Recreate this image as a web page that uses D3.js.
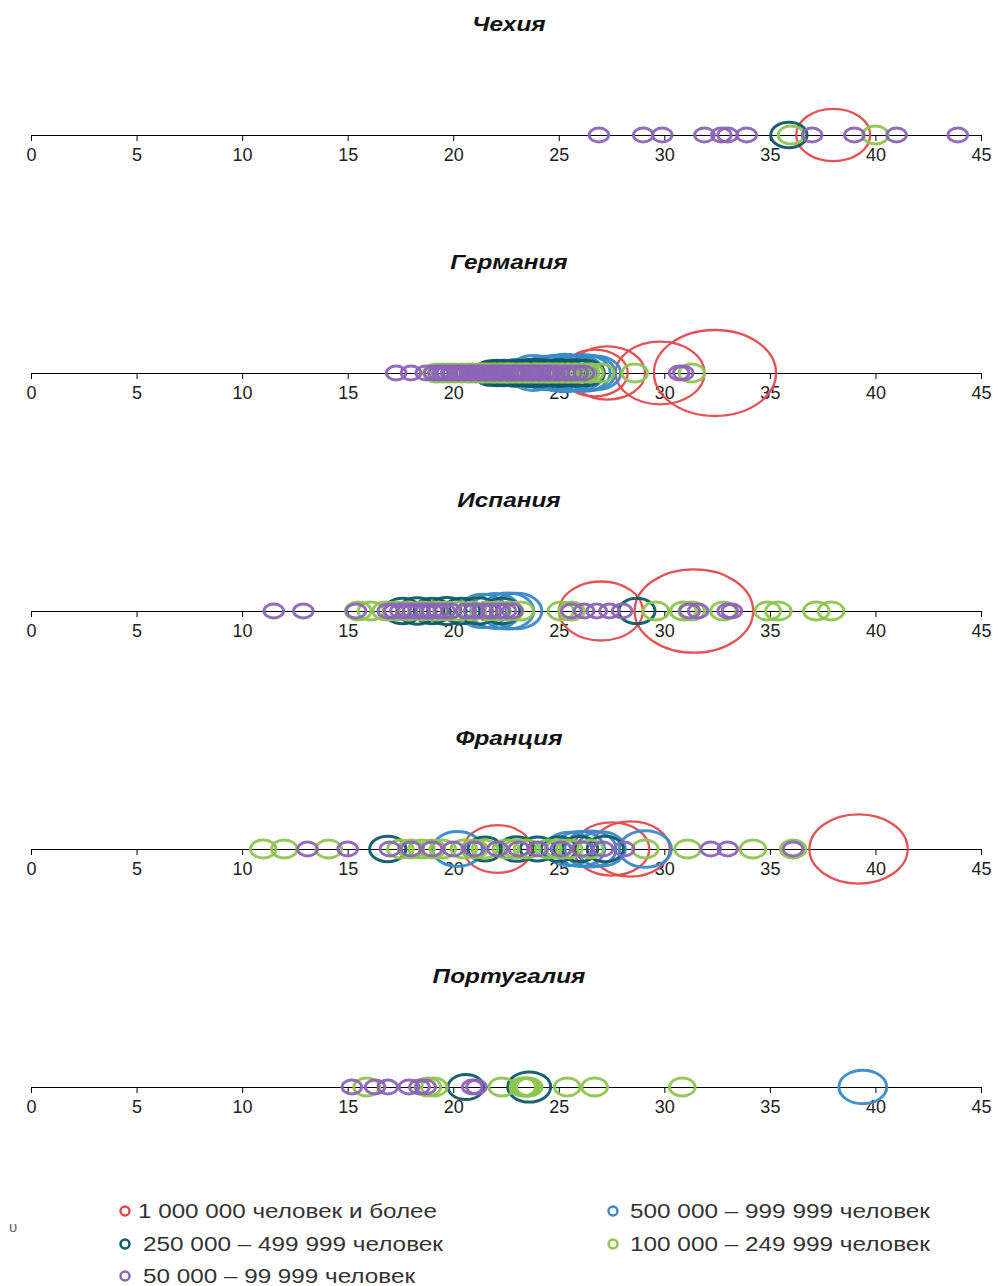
<!DOCTYPE html>
<html><head><meta charset="utf-8">
<script src="https://cdn.jsdelivr.net/npm/d3@7"></script>
<style>body{margin:0;background:#fff}</style>
</head><body>
<script>
// ---------- DATA ----------
const countries = ["Чехия", "Германия", "Испания", "Франция", "Португалия"];
const categories = ["1 000 000 человек и более", "500 000 – 999 999 человек", "250 000 – 499 999 человек", "100 000 – 249 999 человек", "50 000 – 99 999 человек"];
const tickValues = [0, 5, 10, 15, 20, 25, 30, 35, 40, 45];
// representative population (thousands) for classes given as plain values
const greenPop = 150, purplePop = 88;

// Чехия: [value, population (thous.)]
const czRed = [[38.0, 1250]];
const czBlue = [];
const czTeal = [[35.9, 300]];
const czGreen = [36.0, 40.0];
const czPurple = [26.9, 29.0, 29.9, 31.9, 32.7, 33.0, 33.9, 37.0, 39.0, 41.0, 43.9];

// Германия
const deRed = [[26.7, 1000], [27.3, 1300], [29.8, 1800], [32.4, 3400]];
const deBlue = [[23.8, 560], [24.4, 520], [24.9, 580], [25.3, 650], [25.6, 560], [25.9, 600], [26.2, 620], [26.5, 560], [26.8, 520]];
const deTeal = [[21.8, 280], [22.1, 300], [22.4, 300], [22.9, 320], [23.3, 300], [23.6, 330], [23.8, 350], [24.2, 320], [24.6, 300], [25.0, 330], [25.4, 300], [25.8, 320], [26.3, 300]];
const deGreen = [19.2, 19.5, 19.8, 20.1, 20.4, 20.7, 20.9, 21.1, 21.3, 21.5, 21.7, 21.9, 22.0, 22.2, 22.3, 22.5, 22.6, 22.8, 22.9, 23.1, 23.2, 23.4, 23.5, 23.6, 23.8, 23.9, 24.1, 24.2, 24.4, 24.5, 24.6, 24.8, 24.9, 25.1, 25.2, 25.4, 25.5, 25.7, 25.8, 26.0, 26.1, 26.3, 26.5, 27.0, 28.6, 31.3];
const dePurple = [17.3, 18.0, 18.7, 19.1, 19.3, 19.5, 19.7, 19.9, 20.0, 20.2, 20.3, 20.5, 20.6, 20.8, 20.9, 21.0, 21.2, 21.3, 21.5, 21.6, 21.8, 21.9, 22.0, 22.2, 22.3, 22.5, 22.6, 22.8, 22.9, 23.0, 23.2, 23.3, 23.5, 23.7, 23.8, 24.0, 24.1, 24.3, 24.5, 24.6, 24.8, 25.0, 25.3, 25.6, 25.9, 26.2, 30.7, 30.9];

// Испания
const esRed = [[27.0, 1600], [31.4, 3200]];
const esBlue = [[21.4, 520], [22.0, 560], [22.6, 600], [23.0, 580]];
const esTeal = [[17.6, 300], [18.3, 320], [19.0, 300], [19.7, 340], [20.4, 300], [21.2, 320], [22.3, 300], [28.7, 300]];
const esGreen = [15.5, 16.1, 16.8, 17.3, 17.9, 18.5, 19.1, 19.7, 20.3, 20.9, 21.6, 22.1, 22.7, 23.2, 25.1, 25.6, 29.6, 30.9, 31.3, 32.8, 34.9, 35.4, 37.2, 37.9];
const esPurple = [11.5, 12.9, 15.4, 16.9, 17.2, 17.5, 17.8, 18.1, 18.4, 18.7, 19.0, 19.3, 19.6, 19.9, 20.6, 21.0, 21.4, 21.8, 22.2, 22.5, 22.8, 25.6, 26.2, 26.8, 27.4, 28.0, 31.2, 31.6, 33.0, 33.2];

// Франция
const frRed = [[22.1, 1050], [27.5, 1300], [28.4, 1400], [39.2, 2200]];
const frBlue = [[20.2, 560], [25.5, 520], [26.0, 560], [26.5, 600], [27.0, 540], [29.1, 620]];
const frTeal = [[16.9, 300], [21.5, 260], [23.0, 280], [24.0, 270], [25.0, 280], [26.0, 290], [27.2, 300]];
const frGreen = [11.0, 12.0, 14.1, 17.5, 18.0, 18.5, 19.0, 19.5, 20.5, 21.0, 21.5, 22.5, 23.0, 23.5, 24.5, 25.0, 25.5, 26.5, 29.1, 31.1, 34.2, 36.1];
const frPurple = [13.1, 15.0, 17.0, 18.0, 19.0, 20.0, 21.0, 22.1, 23.1, 24.0, 25.1, 26.1, 27.1, 28.1, 32.2, 33.0, 36.1];

// Португалия
const ptRed = [];
const ptBlue = [[39.4, 520]];
const ptTeal = [[20.6, 290], [23.6, 420]];
const ptGreen = [15.9, 18.8, 19.1, 22.3, 23.3, 23.4, 23.5, 23.6, 25.4, 26.7, 30.85];
const ptPurple = [15.2, 16.3, 16.9, 17.9, 18.4, 18.7, 20.9, 21.1];

// ---------- BUILD ----------
function build(red, blue, teal, green, purple) {
  const out = [];
  red.forEach(d => out.push({v: d[0], p: d[1], c: 0}));
  blue.forEach(d => out.push({v: d[0], p: d[1], c: 1}));
  teal.forEach(d => out.push({v: d[0], p: d[1], c: 2}));
  green.forEach(v => out.push({v: v, p: greenPop, c: 3}));
  purple.forEach(v => out.push({v: v, p: purplePop, c: 4}));
  return out;
}
const panels = [
  build(czRed, czBlue, czTeal, czGreen, czPurple),
  build(deRed, deBlue, deTeal, deGreen, dePurple),
  build(esRed, esBlue, esTeal, esGreen, esPurple),
  build(frRed, frBlue, frTeal, frGreen, frPurple),
  build(ptRed, ptBlue, ptTeal, ptGreen, ptPurple)
];

// ---------- STYLE / LAYOUT ----------
const W = 1002, H = 1286;
const colors = ["#e24a4d", "#3b8ac8", "#0f5a68", "#8fc450", "#8d64b8"];
const x = d3.scaleLinear().domain([0, 45]).range([31, 981]);
const ry = d3.scaleSqrt().domain([0, 3400]).range([0, 43]);
const aspect = 1.42;
const axisY0 = 135, panelStep = 238;
const bodyFont = "'Liberation Sans',Arial,sans-serif";

const svg = d3.select("body").append("svg").attr("width", W).attr("height", H);

panels.forEach((data, i) => {
  const ay = axisY0 + i * panelStep;
  svg.append("text")
    .attr("x", 509).attr("y", ay - 104)
    .attr("text-anchor", "middle")
    .attr("font-family", bodyFont)
    .attr("font-weight", "bold").attr("font-style", "italic")
    .attr("font-size", 21).attr("fill", "#111")
    .attr("transform", `translate(509,0) scale(1.16,1) translate(-509,0)`)
    .text(countries[i]);

  const g = svg.append("g").attr("transform", `translate(0,${ay})`);
  const axis = d3.axisBottom(x).tickValues(tickValues).tickSize(6).tickSizeOuter(0).tickFormat(d3.format("d"));
  const ag = g.append("g").call(axis);
  ag.select(".domain").attr("stroke", "#000").attr("stroke-width", 1.2);
  ag.selectAll(".tick line").attr("stroke", "#000");
  ag.selectAll(".tick text").attr("font-family", bodyFont).attr("font-size", 18).attr("fill", "#222").attr("dy", "0.95em");

  const sorted = data.slice().sort((a, b) => a.c - b.c);
  g.append("g").selectAll("ellipse").data(sorted).join("ellipse")
    .attr("cx", d => x(d.v)).attr("cy", 0)
    .attr("rx", d => ry(d.p) * aspect).attr("ry", d => ry(d.p))
    .attr("fill", "none")
    .attr("stroke", d => colors[d.c])
    .attr("stroke-width", d => d.c === 0 ? 2.3 : 3)
    .attr("stroke-opacity", 0.95);
});

// ---------- LEGEND ----------
const legendPos = [[125, 1211, 138, 299], [613, 1211, 630, 300], [125, 1244, 143, 300], [613, 1244, 630, 300], [125, 1276, 143, 272]];
const lg = svg.append("g");
categories.forEach((c, i) => {
  const [lx, ly, tx, tl] = legendPos[i];
  lg.append("circle").attr("cx", lx).attr("cy", ly).attr("r", 4.5)
    .attr("fill", "none").attr("stroke", colors[i]).attr("stroke-width", 2.5);
  lg.append("text").attr("x", tx).attr("y", ly + 7)
    .attr("font-family", bodyFont).attr("font-size", 20).attr("fill", "#333")
    .attr("textLength", tl).attr("lengthAdjust", "spacingAndGlyphs")
    .text(c);
});
svg.append("text").attr("x", 9).attr("y", 1232).attr("font-family", bodyFont)
  .attr("font-size", 15).attr("fill", "#666").text("υ");
</script>
</body></html>
